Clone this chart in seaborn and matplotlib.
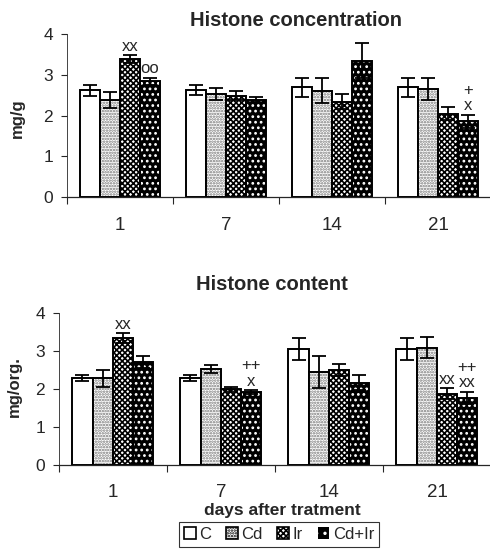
import matplotlib.pyplot as plt
import pandas as pd
import seaborn as sns
from matplotlib.patches import Patch, Rectangle

days = ['1', '7', '14', '21']
groups = ['C', 'Cd', 'Ir', 'Cd+Ir']

# Histone concentration (mg/g)
conc_C = [2.62, 2.63, 2.69, 2.69]
conc_Cd = [2.39, 2.52, 2.61, 2.66]
conc_Ir = [3.38, 2.49, 2.34, 2.05]
conc_CdIr = [2.84, 2.38, 3.34, 1.86]
conc_C_err = [0.13, 0.12, 0.24, 0.24]
conc_Cd_err = [0.20, 0.15, 0.30, 0.27]
conc_Ir_err = [0.10, 0.12, 0.18, 0.15]
conc_CdIr_err = [0.09, 0.08, 0.43, 0.16]

# Histone content (mg/org.)
cont_C = [2.28, 2.29, 3.04, 3.04]
cont_Cd = [2.28, 2.52, 2.45, 3.09]
cont_Ir = [3.33, 1.99, 2.49, 1.88]
cont_CdIr = [2.70, 1.91, 2.17, 1.77]
cont_C_err = [0.08, 0.07, 0.29, 0.29]
cont_Cd_err = [0.22, 0.10, 0.42, 0.28]
cont_Ir_err = [0.13, 0.07, 0.16, 0.14]
cont_CdIr_err = [0.16, 0.05, 0.19, 0.16]

# significance marks: (group, day, text)
conc_marks = [('Ir', '1', 'xx'), ('Cd+Ir', '1', 'oo'), ('Cd+Ir', '21', '+\nx')]
cont_marks = [('Ir', '1', 'xx'), ('Cd+Ir', '7', '++\nx'),
              ('Ir', '21', 'xx'), ('Cd+Ir', '21', '++\nxx')]


def make_df(vals, errs):
    rows = []
    for g, v, e in zip(groups, vals, errs):
        for d, vv, ee in zip(days, v, e):
            rows.append({'day': d, 'group': g, 'value': vv, 'err': ee})
    return pd.DataFrame(rows)


conc = make_df([conc_C, conc_Cd, conc_Ir, conc_CdIr],
               [conc_C_err, conc_Cd_err, conc_Ir_err, conc_CdIr_err])
cont = make_df([cont_C, cont_Cd, cont_Ir, cont_CdIr],
               [cont_C_err, cont_Cd_err, cont_Ir_err, cont_CdIr_err])

sns.set_style('ticks')
plt.rcParams['font.family'] = ['Liberation Sans', 'DejaVu Sans']
plt.rcParams['hatch.linewidth'] = 1.2

palette = {'C': 'white', 'Cd': 'white', 'Ir': 'white', 'Cd+Ir': 'black'}
hatches = {'C': '', 'Cd': '......', 'Ir': 'xxxxxx', 'Cd+Ir': '...'}
hcolors = {'C': 'black', 'Cd': '#777777', 'Ir': 'black', 'Cd+Ir': 'white'}

fig = plt.figure(figsize=(4.9, 5.49), dpi=100)
ax1 = fig.add_axes([0.137, 0.641, 0.865, 0.297])
ax2 = fig.add_axes([0.120, 0.153, 0.882, 0.277])


def draw(ax, df, marks):
    sns.barplot(data=df, x='day', y='value', hue='group', order=days,
                hue_order=groups, palette=palette, width=0.75, errorbar=None,
                edgecolor='black', linewidth=1.4, legend=False, ax=ax)
    pos = {}
    for g, cont_ in zip(groups, ax.containers):
        bars = sorted(cont_, key=lambda b: b.get_x())
        sub = df[df['group'] == g].set_index('day')
        for d, b in zip(days, bars):
            xc = b.get_x() + b.get_width() / 2
            pos[(g, d)] = (xc, sub.loc[d, 'value'] + sub.loc[d, 'err'])
            if hatches[g]:
                b.set_edgecolor(hcolors[g])
                b.set_linewidth(0)
                b.set_hatch(hatches[g])
                ax.add_patch(Rectangle(b.get_xy(), b.get_width(), b.get_height(),
                                       fill=False, edgecolor='black', lw=1.4))
            ax.errorbar(xc, sub.loc[d, 'value'], yerr=sub.loc[d, 'err'],
                        fmt='none', ecolor='black', elinewidth=1.3,
                        capsize=5, capthick=1.3)
    for g, d, t in marks:
        xc, top = pos[(g, d)]
        ax.text(xc, top + 0.04, t, ha='center', va='bottom', fontsize=12,
                linespacing=1.05)

    ax.set_ylim(0, 4)
    ax.set_xlim(-0.5, 3.5)
    ax.set_yticks([0, 1, 2, 3, 4])
    ax.set_xticks([-0.5, 0.5, 1.5, 2.5, 3.5])
    ax.set_xticklabels([])
    ax.set_xticks(range(4), minor=True)
    ax.set_xticklabels(days, minor=True, fontsize=13.5)
    ax.tick_params(axis='x', which='major', length=5, width=0.8, direction='out')
    ax.tick_params(axis='x', which='minor', length=0, pad=14)
    ax.tick_params(axis='y', length=4, width=0.8, pad=6, labelsize=12.5)
    ax.set_xlabel('')
    ax.set_ylabel('')
    sns.despine(ax=ax, right=True, top=True)
    ax.spines['left'].set_linewidth(0.6)
    ax.spines['bottom'].set_linewidth(0.9)


draw(ax1, conc, conc_marks)
draw(ax2, cont, cont_marks)

fig.text(296 / 490, 1 - 20 / 549, 'Histone concentration', ha='center',
         va='center', fontsize=14.5, fontweight='bold')
fig.text(272 / 490, 1 - 285 / 549, 'Histone content', ha='center',
         va='center', fontsize=14.5, fontweight='bold')
fig.text(17 / 490, 1 - 118 / 549, 'mg/g', rotation=90, ha='center',
         va='center', fontsize=12, fontweight='bold')
fig.text(14 / 490, 1 - 387 / 549, 'mg/org.', rotation=90, ha='center',
         va='center', fontsize=12, fontweight='bold')
fig.text(282 / 490, 1 - 511 / 549, 'days after tratment', ha='center',
         va='center', fontsize=12.5, fontweight='bold')

handles = []
for g in groups:
    if g == 'Cd+Ir':
        handles.append(Patch(facecolor='black', edgecolor='white',
                             hatch='..', lw=0))
    else:
        handles.append(Patch(facecolor='white', edgecolor='black',
                             hatch=hatches[g], lw=1.2))
leg = fig.legend(handles, groups, loc='upper center', ncol=4,
                 bbox_to_anchor=(279 / 490, 27 / 549), frameon=True,
                 fancybox=False, edgecolor='black', fontsize=12,
                 handlelength=0.7, handleheight=0.7, handletextpad=0.2,
                 columnspacing=0.9, borderpad=0.3, borderaxespad=0)
leg.get_frame().set_linewidth(0.8)

fig.savefig('out.png', dpi=100)
